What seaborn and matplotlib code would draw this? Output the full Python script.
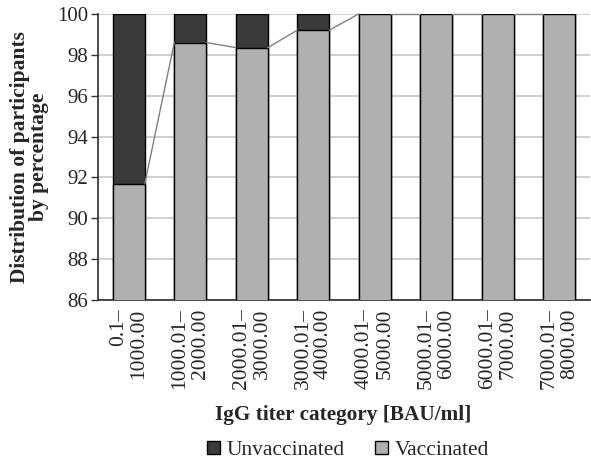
import numpy as np
import pandas as pd
import matplotlib
matplotlib.use("Agg")
import matplotlib.pyplot as plt
import seaborn as sns
from matplotlib.patches import Patch

categories = ["0.1–\n1000.00", "1000.01–\n2000.00", "2000.01–\n3000.00", "3000.01–\n4000.00",
              "4000.01–\n5000.00", "5000.01–\n6000.00", "6000.01–\n7000.00", "7000.01–\n8000.00"]
vaccinated = [91.7, 98.6, 98.35, 99.2, 100, 100, 100, 100]
unvaccinated = [100 - v for v in vaccinated]
y_ticks = [86, 88, 90, 92, 94, 96, 98, 100]

sns.set_theme(style="white")
plt.rcParams['font.family'] = ['Liberation Serif', 'DejaVu Serif']

df = pd.DataFrame({"cat": categories, "vacc": vaccinated,
                   "total": [v + u for v, u in zip(vaccinated, unvaccinated)]})

fig = plt.figure(figsize=(5.91, 4.63), dpi=100)
ax = fig.add_axes([0.166, 0.352, 0.832, 0.618])

W = 0.52
dark = "#3b3b3b"
light = "#b0b0b0"
sns.barplot(data=df, x="cat", y="total", color=dark, width=W, edgecolor="black",
            linewidth=1.0, saturation=1, ax=ax, zorder=2)
sns.barplot(data=df, x="cat", y="vacc", color=light, width=W, edgecolor="black",
            linewidth=1.0, saturation=1, ax=ax, zorder=3)

# series lines
for i in range(len(vaccinated) - 1):
    ax.plot([i + W / 2, i + 1 - W / 2], [vaccinated[i], vaccinated[i + 1]],
            color="#808080", lw=1.0, zorder=4, clip_on=False)

ax.set_ylim(86, 100)
ax.set_xlim(-0.5, len(categories) - 0.5)
ax.set_yticks(y_ticks)
ax.yaxis.grid(True, color="#c8c8c8", lw=1.2, zorder=0)
ax.set_axisbelow(True)
for s in ["top", "right"]:
    ax.spines[s].set_visible(False)
ax.spines["left"].set_color("#333333")
ax.spines["bottom"].set_color("#333333")
ax.tick_params(axis="y", which="both", left=True, length=5, width=1, color="#333333",
               labelsize=15, pad=2)
ax.tick_params(axis="x", bottom=False, labelsize=15.5, pad=0)
ax.set_xticks(range(len(categories)))
ax.set_xticklabels(categories, rotation=90, ha="center", va="top",
                   multialignment="right", linespacing=1.1)
ax.set_xlabel("")
ax.set_ylabel("Distribution of participants\nby percentage", fontsize=15.5,
              fontweight="bold", labelpad=6, linespacing=0.95)

fig.text(0.58, 0.103, "IgG titer category [BAU/ml]", ha="center", va="center",
         fontsize=15.3, fontweight="bold")
handles = [Patch(facecolor=dark, edgecolor="black", label="Unvaccinated"),
           Patch(facecolor=light, edgecolor="black", label="Vaccinated")]
fig.legend(handles=handles, loc="center", bbox_to_anchor=(0.589, 0.027), ncol=2,
           frameon=False, fontsize=15.5, handlelength=0.6, handleheight=0.6,
           handletextpad=0.3, columnspacing=1.4)

fig.savefig("out.png", dpi=100)
